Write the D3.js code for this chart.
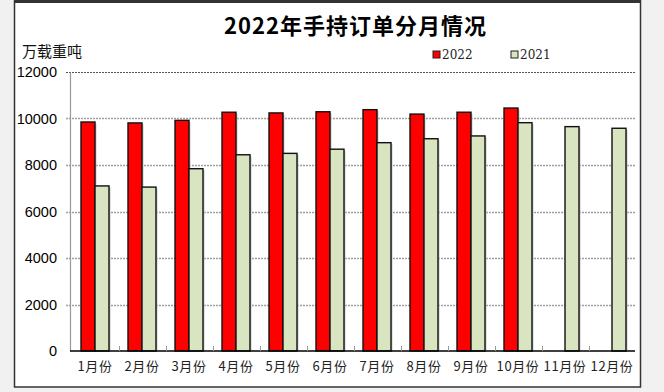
<!DOCTYPE html>
<html>
<head>
<meta charset="utf-8">
<script src="https://cdn.jsdelivr.net/npm/d3@7"></script>
<style>
  html, body { margin: 0; padding: 0; background: #f0f1f0; }
  svg { display: block; }
</style>
</head>
<body>
<div id="chart"></div>
<script>
var months = ["1月份","2月份","3月份","4月份","5月份","6月份","7月份","8月份","9月份","10月份","11月份","12月份"];
var seriesNames = ["2022", "2021"];
var values2022 = [9850, 9810, 9920, 10270, 10240, 10290, 10380, 10190, 10270, 10450, null, null];
var values2021 = [7100, 7050, 7840, 8440, 8500, 8680, 8960, 9130, 9250, 9820, 9650, 9580];
var yTicks = [0, 2000, 4000, 6000, 8000, 10000, 12000];
var colors = ["#ff0000", "#d9e4c0"];

(function() {
    var W = 664, H = 392;
    var plotLeft = 70, plotRight = 635, plotTop = 72, plotBottom = 351;

    var svg = d3.select("#chart").append("svg")
        .attr("width", W)
        .attr("height", H);

    // panel
    svg.append("rect")
        .attr("x", 14.5).attr("y", 1)
        .attr("width", 626).attr("height", 386)
        .attr("fill", "#fff")
        .attr("stroke", "#333")
        .attr("stroke-width", 1.5);
    svg.append("line")
        .attr("x1", 14).attr("x2", 641).attr("y1", 1.5).attr("y2", 1.5)
        .attr("stroke", "#333").attr("stroke-width", 3);

    var x = d3.scaleBand().domain(months).range([71.5, 635.5]);
    var xs = d3.scaleBand().domain(seriesNames).range([0, 28]);
    var y = d3.scaleLinear().domain([0, 12000]).range([plotBottom, plotTop]);

    // title
    svg.append("text")
        .attr("x", 355).attr("y", 34)
        .attr("text-anchor", "middle")
        .attr("font-family", "'Noto Sans CJK SC', sans-serif")
        .attr("font-weight", "bold")
        .attr("font-size", 22)
        .attr("textLength", 262)
        .attr("fill", "#000")
        .text("2022年手持订单分月情况");

    // unit
    svg.append("text")
        .attr("x", 22).attr("y", 57)
        .attr("font-family", "'Noto Sans CJK SC', sans-serif")
        .attr("font-size", 15)
        .attr("fill", "#111")
        .text("万载重吨");

    // grid
    svg.append("g").selectAll("line")
        .data(yTicks.filter(function(d){ return d > 0; }))
        .enter().append("line")
        .attr("x1", plotLeft - 4).attr("x2", plotRight)
        .attr("y1", function(d){ return Math.round(y(d)) + 0.5; })
        .attr("y2", function(d){ return Math.round(y(d)) + 0.5; })
        .attr("stroke", function(d){ return d === 12000 ? "#555" : "#a0a0a0"; })
        .attr("stroke-width", function(d){ return d === 12000 ? 1 : 1.4; })
        .attr("stroke-dasharray", "2,1");

    // y axis
    var yAxis = d3.axisLeft(y).tickValues(yTicks).tickFormat(d3.format("d"))
        .tickSize(0).tickPadding(13);
    var gy = svg.append("g").attr("transform", "translate(" + plotLeft + ",0)").call(yAxis);
    gy.select(".domain").attr("stroke", "#999").attr("stroke-width", 1.2);
    gy.selectAll("text")
        .attr("font-family", "'Liberation Sans', Arial, sans-serif")
        .attr("font-size", 14.5)
        .attr("fill", "#000");

    // bars
    var groups = svg.append("g").selectAll("g")
        .data(months)
        .enter().append("g")
        .attr("transform", function(d){ return "translate(" + (x(d) + 9.5) + ",0)"; });

    var bars = groups.selectAll("rect")
        .data(function(d, i){
            return [values2022[i], values2021[i]].map(function(v, j){
                return { key: seriesNames[j], value: v, color: colors[j] };
            }).filter(function(e){ return e.value != null; });
        })
        .enter();

    // shadow
    bars.append("rect")
        .attr("x", function(d){ return xs(d.key) + 1.5; })
        .attr("y", function(d){ return y(d.value) + 1.5; })
        .attr("width", xs.bandwidth())
        .attr("height", function(d){ return plotBottom - y(d.value) - 1.5; })
        .attr("fill", "#c8c8c8");

    bars.append("rect")
        .attr("x", function(d){ return xs(d.key); })
        .attr("y", function(d){ return y(d.value); })
        .attr("width", xs.bandwidth())
        .attr("height", function(d){ return plotBottom - y(d.value); })
        .attr("fill", function(d){ return d.color; })
        .attr("stroke", "#111")
        .attr("stroke-width", 1.4);

    // x axis
    var xAxis = d3.axisBottom(x).tickSize(0).tickPadding(11);
    var gx = svg.append("g").attr("transform", "translate(0," + plotBottom + ")").call(xAxis);
    gx.select(".domain").attr("stroke", "#000").attr("stroke-width", 1.6)
        .attr("d", "M" + plotLeft + ",0H" + plotRight);
    gx.selectAll("text")
        .attr("font-family", "'Noto Sans CJK SC', sans-serif")
        .attr("font-size", 13)
        .attr("letter-spacing", 0.6)
        .attr("fill", "#222");

    // category boundary ticks pointing up
    svg.append("g").selectAll("line")
        .data(months.slice(1))
        .enter().append("line")
        .attr("x1", function(d){ return Math.round(x(d)) + 0.5; })
        .attr("x2", function(d){ return Math.round(x(d)) + 0.5; })
        .attr("y1", plotBottom - 5).attr("y2", plotBottom)
        .attr("stroke", "#999");

    // legend
    var legend = svg.append("g").selectAll("g")
        .data(seriesNames)
        .enter().append("g")
        .attr("transform", function(d, i){ return "translate(" + (433 + i * 78) + ",51)"; });
    legend.append("rect")
        .attr("width", 7).attr("height", 7)
        .attr("fill", function(d, i){ return colors[i]; })
        .attr("stroke", "#222").attr("stroke-width", 1);
    legend.append("text")
        .attr("x", 9).attr("y", 8)
        .attr("font-family", "'DejaVu Serif', serif")
        .attr("font-size", 12)
        .attr("fill", "#222")
        .text(function(d){ return d; });
})();
</script>
</body>
</html>
